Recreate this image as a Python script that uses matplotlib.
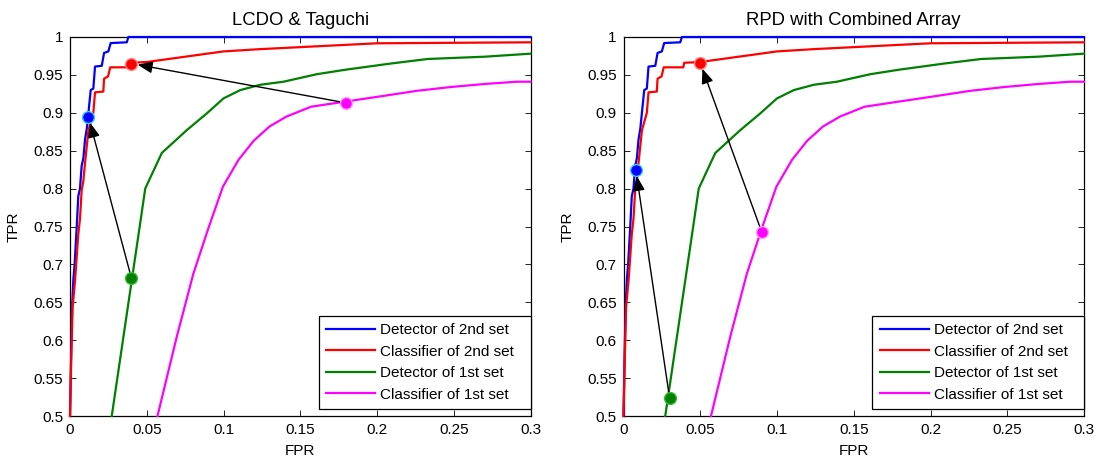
import matplotlib
matplotlib.use("Agg")
import matplotlib.pyplot as plt

plt.rcParams["font.family"] = ["Liberation Sans", "DejaVu Sans"]
plt.rcParams["font.size"] = 11

# ROC curves (FPR, TPR) shared by both panels
det2_fpr = [0, 0.0008, 0.0015, 0.0022, 0.003, 0.0044, 0.0054, 0.0065, 0.0076, 0.0087,
            0.0098, 0.011, 0.012, 0.0135, 0.0152, 0.0163, 0.0207, 0.0222, 0.025, 0.0265,
            0.037, 0.038, 0.3]
det2_tpr = [0.5, 0.59, 0.65, 0.68, 0.70, 0.75, 0.79, 0.80, 0.83, 0.84,
            0.865, 0.88, 0.90, 0.93, 0.932, 0.961, 0.962, 0.979, 0.981, 0.992,
            0.993, 1.0, 1.0]

cls2_fpr = [0, 0.0007, 0.0017, 0.0033, 0.0054, 0.0065, 0.0076, 0.0087, 0.0098, 0.012,
            0.0152, 0.0163, 0.0217, 0.0222, 0.0248, 0.0262, 0.039, 0.0395, 0.05, 0.1,
            0.124, 0.2, 0.3]
cls2_tpr = [0.5, 0.565, 0.644, 0.679, 0.74, 0.76, 0.798, 0.81, 0.834, 0.877,
            0.90, 0.927, 0.928, 0.945, 0.948, 0.96, 0.96, 0.966, 0.967, 0.981,
            0.984, 0.9917, 0.993]

det1_fpr = [0.0272, 0.0457, 0.049, 0.0598, 0.076, 0.089, 0.1, 0.111, 0.124, 0.139,
            0.161, 0.180, 0.209, 0.233, 0.27, 0.30]
det1_tpr = [0.5, 0.754, 0.80, 0.847, 0.877, 0.899, 0.919, 0.930, 0.937, 0.941,
            0.951, 0.957, 0.965, 0.971, 0.974, 0.978]

cls1_fpr = [0.057, 0.0696, 0.0804, 0.0902, 0.0996, 0.1098, 0.1196, 0.130, 0.141, 0.157,
            0.180, 0.2, 0.226, 0.248, 0.27, 0.291, 0.3]
cls1_tpr = [0.5, 0.605, 0.688, 0.748, 0.8025, 0.838, 0.863, 0.882, 0.895, 0.908,
            0.915, 0.921, 0.929, 0.934, 0.938, 0.941, 0.941]

series_labels = ["Detector of 2nd set", "Classifier of 2nd set",
                 "Detector of 1st set", "Classifier of 1st set"]
series_colors = ["#0000ff", "#ff0000", "#008000", "#ff00ff"]
marker_edges = ["#33ccff", "#ff8080", "#33bb33", "#ff99ff"]

panel_titles = ["LCDO & Taguchi", "RPD with Combined Array"]

# Operating points chosen on each curve: order det2, cls2, det1, cls1
op_fpr = [[0.012, 0.040, 0.040, 0.180],
          [0.008, 0.050, 0.030, 0.090]]
op_tpr = [[0.895, 0.965, 0.682, 0.913],
          [0.825, 0.966, 0.524, 0.743]]

x_ticks = [0, 0.05, 0.1, 0.15, 0.2, 0.25, 0.3]
x_ticklabels = ["0", "0.05", "0.1", "0.15", "0.2", "0.25", "0.3"]
y_ticks = [0.5, 0.55, 0.6, 0.65, 0.7, 0.75, 0.8, 0.85, 0.9, 0.95, 1.0]
y_ticklabels = ["0.5", "0.55", "0.6", "0.65", "0.7", "0.75", "0.8", "0.85", "0.9", "0.95", "1"]

curves = [(det2_fpr, det2_tpr), (cls2_fpr, cls2_tpr),
          (det1_fpr, det1_tpr), (cls1_fpr, cls1_tpr)]

fig = plt.figure(figsize=(11.01, 4.59), dpi=100)
axes_rects = [[70 / 1101, 43 / 459, 460.5 / 1101, 379 / 459],
              [623.5 / 1101, 43 / 459, 460.5 / 1101, 379 / 459]]

for p, rect in enumerate(axes_rects):
    ax = fig.add_axes(rect)
    handles = []
    for (fx, ty), col, lab in zip(curves, series_colors, series_labels):
        h, = ax.plot(fx, ty, color=col, lw=1.6, label=lab, clip_on=False, zorder=3)
        handles.append(h)

    # arrows: 1st set detector -> 2nd set detector, 1st set classifier -> 2nd set classifier
    for src, dst in [(2, 0), (3, 1)]:
        ax.annotate("", xy=(op_fpr[p][dst], op_tpr[p][dst]),
                    xytext=(op_fpr[p][src], op_tpr[p][src]),
                    arrowprops=dict(arrowstyle="-|>,head_length=0.75,head_width=0.3",
                                    color="black", lw=1.0, mutation_scale=12,
                                    shrinkA=0, shrinkB=4.5),
                    zorder=4)

    for k in range(4):
        ax.plot(op_fpr[p][k], op_tpr[p][k], "o", ms=8.5, mfc=series_colors[k],
                mec=marker_edges[k], mew=1.0, zorder=5, clip_on=False)

    ax.set_xlim(0, 0.3)
    ax.set_ylim(0.5, 1.0)
    ax.set_xticks(x_ticks)
    ax.set_xticklabels(x_ticklabels)
    ax.set_yticks(y_ticks)
    ax.set_yticklabels(y_ticklabels)
    ax.tick_params(direction="in", length=4, width=0.6, top=True, right=True,
                   labelsize=11, pad=5)
    for s in ax.spines.values():
        s.set_linewidth(0.9)
    ax.set_xlabel("FPR", fontsize=11, labelpad=5)
    ax.set_ylabel("TPR", fontsize=11, labelpad=9)
    ax.set_title(panel_titles[p], fontsize=13.3, pad=8.5)

    leg = ax.legend(handles=handles, loc="lower left",
                    bbox_to_anchor=(0.5407, 0.0185, 0.4593, 0.25), mode="expand",
                    borderaxespad=0, fancybox=False, framealpha=1, edgecolor="black",
                    fontsize=11, handlelength=3.2, handletextpad=0.35,
                    labelspacing=0.5, borderpad=0.47)
    leg.get_frame().set_linewidth(0.9)
    leg.set_zorder(6)

fig.savefig("out.png", dpi=100)
